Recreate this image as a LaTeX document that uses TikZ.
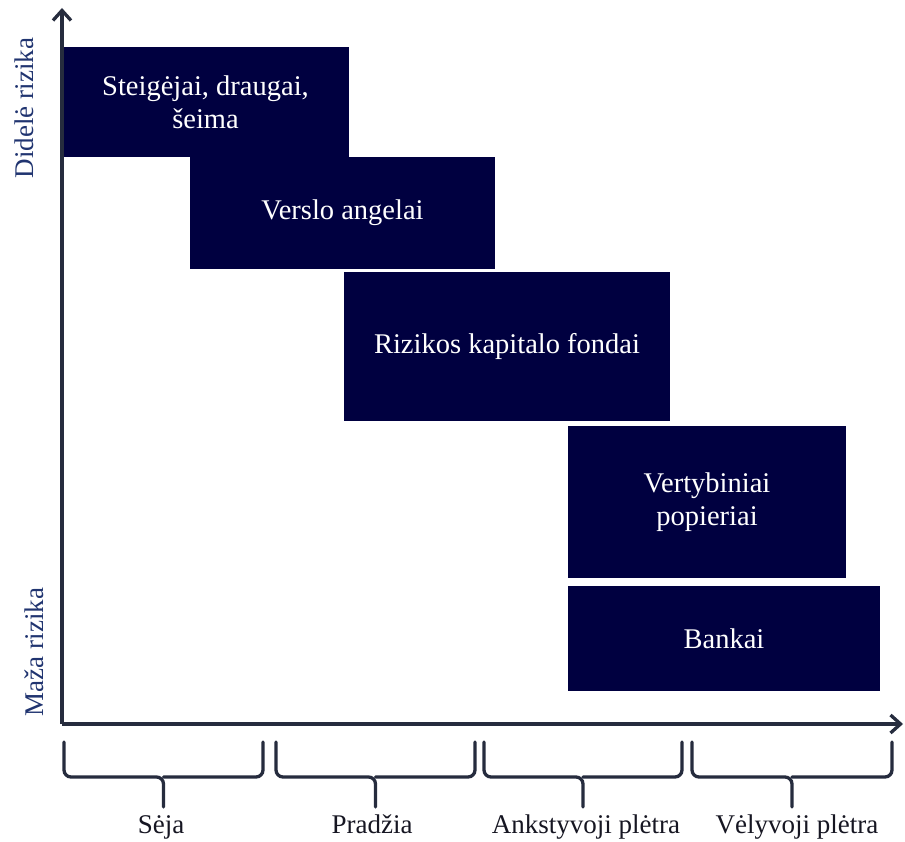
\documentclass[tikz,border=0pt]{standalone}
\usepackage{fontspec}
\setmainfont{Liberation Serif}
\usetikzlibrary{arrows.meta}
\definecolor{boxfill}{RGB}{0,0,64}
\definecolor{axiscol}{RGB}{38,44,62}
\definecolor{labblue}{RGB}{32,52,112}
\definecolor{labdark}{RGB}{22,22,34}
\tikzset{
  stagebox/.style={rectangle, fill=boxfill, draw=none, text=white, align=center,
    inner sep=0pt, font=\fontsize{28.5}{33}\selectfont},
  axisline/.style={draw=axiscol, line width=3.3pt, -{Straight Barb[length=10pt,width=18pt,line width=3.3pt]}},
  bracepath/.style={draw=axiscol, line width=3.3pt, rounded corners=7pt, line cap=round},
  risklabel/.style={rotate=90, anchor=base, text=labblue, font=\fontsize{27}{32}\selectfont, inner sep=0pt},
  stagelabel/.style={anchor=base, text=labdark, font=\fontsize{27}{32}\selectfont, inner sep=0pt}
}
\begin{document}
\begin{tikzpicture}[x=1pt,y=-1pt]
\useasboundingbox (0,0) rectangle (905,842);
\fill[white] (0,0) rectangle (905,842);
% boxes
\node[stagebox, minimum width=287pt, minimum height=110pt] (b1) at (205.5,102) {Steigėjai, draugai,\\šeima};
\node[stagebox, minimum width=305pt, minimum height=112pt] (b2) at (342.5,213) {Verslo angelai};
\node[stagebox, minimum width=326pt, minimum height=149pt] (b3) at (507,346.5) {Rizikos kapitalo fondai};
\node[stagebox, minimum width=278pt, minimum height=152pt] (b4) at (707,502) {Vertybiniai\\popieriai};
\node[stagebox, minimum width=312pt, minimum height=105pt] (b5) at (724,638.5) {Bankai};
% axes
\coordinate (origin) at (62,724);
\coordinate (ytop) at (62,8);
\coordinate (xend) at (903,724);
\draw[axisline] (origin) -- (ytop);
\draw[axisline] (origin) -- (xend);
% risk labels
\node[risklabel] (hi) at (33,108) {Didelė rizika};
\node[risklabel] (lo) at (43,652) {Maža rizika};
% braces
\foreach \a/\b [evaluate=\a as \c using (\a+\b)/2] in {64/263, 276/475, 484/682, 692/892}{
  \draw[bracepath] (\a,742) -- (\a,777) -- (\c,777) -- (\c,807);
  \draw[bracepath] (\b,742) -- (\b,777) -- (\c,777);
}
% stage labels
\node[stagelabel] (s1) at (161,833) {Sėja};
\node[stagelabel] (s2) at (372,833) {Pradžia};
\node[stagelabel] (s3) at (586,833) {Ankstyvoji plėtra};
\node[stagelabel] (s4) at (797,833) {Vėlyvoji plėtra};
\end{tikzpicture}
\end{document}
